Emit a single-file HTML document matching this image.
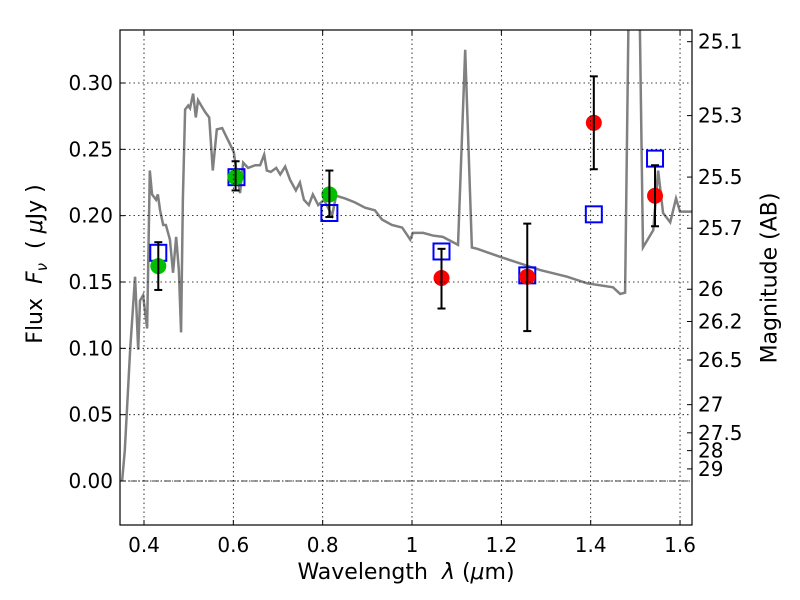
<!DOCTYPE html>
<html><head><meta charset="utf-8"><style>
body{margin:0;background:#fff;overflow:hidden}
svg text{font-family:"DejaVu Sans","Liberation Sans",sans-serif;fill:#000}
</style></head><body>
<svg id="c" width="800" height="600" style="display:block" xmlns="http://www.w3.org/2000/svg"></svg>
<script>
const xTicks=[0.4,0.6,0.8,1,1.2,1.4,1.6];
const xTickLabels=["0.4","0.6","0.8","1","1.2","1.4","1.6"];
const yTicks=[0,0.05,0.10,0.15,0.20,0.25,0.30];
const yTickLabels=["0.00","0.05","0.10","0.15","0.20","0.25","0.30"];
const magTicks=[25.1,25.3,25.5,25.7,26,26.2,26.5,27,27.5,28,29];
const specLam=[0.351,0.357,0.369,0.380,0.387,0.391,0.398,0.407,0.413,0.418,0.427,0.431,0.436,0.443,0.449,0.458,0.465,0.472,0.478,0.483,0.487,0.492,0.499,0.503,0.510,0.516,0.521,0.528,0.537,0.546,0.554,0.563,0.575,0.588,0.601,0.608,0.615,0.622,0.633,0.649,0.660,0.669,0.675,0.684,0.696,0.705,0.716,0.727,0.740,0.749,0.758,0.769,0.778,0.790,0.803,0.821,0.830,0.850,0.872,0.895,0.917,0.933,0.955,0.978,0.996,1.002,1.025,1.047,1.069,1.103,1.119,1.134,1.146,1.197,1.287,1.347,1.392,1.450,1.466,1.477,1.488,1.506,1.517,1.540,1.551,1.562,1.578,1.591,1.600,1.629];
const specFlux=[0,0.023,0.099,0.154,0.099,0.136,0.140,0.115,0.234,0.216,0.212,0.216,0.204,0.193,0.193,0.182,0.157,0.184,0.159,0.112,0.212,0.280,0.283,0.281,0.292,0.274,0.287,0.283,0.278,0.274,0.234,0.265,0.266,0.257,0.248,0.231,0.217,0.240,0.236,0.238,0.238,0.246,0.234,0.233,0.236,0.231,0.237,0.227,0.219,0.225,0.212,0.208,0.216,0.208,0.212,0.200,0.215,0.213,0.210,0.206,0.204,0.197,0.193,0.191,0.182,0.187,0.187,0.185,0.184,0.178,0.325,0.176,0.175,0.169,0.159,0.154,0.149,0.146,0.141,0.142,0.44,0.44,0.176,0.189,0.234,0.202,0.195,0.213,0.203,0.203];
const greenLam=[0.432,0.605,0.815];
const greenFlux=[0.162,0.229,0.216];
const greenHi=[0.180,0.241,0.234];
const greenLo=[0.144,0.219,0.199];
const redLam=[1.066,1.258,1.407,1.544];
const redFlux=[0.153,0.154,0.270,0.215];
const redHi=[0.175,0.194,0.305,0.238];
const redLo=[0.130,0.113,0.235,0.192];
const modelLam=[0.432,0.607,0.815,1.066,1.258,1.407,1.544];
const modelFlux=[0.172,0.229,0.202,0.173,0.155,0.201,0.243];

const L=120,R=692,T=30,B=525;
const X=v=>144+(v-0.4)*446.7;
const Y=v=>481-v*1326.7;
const NS="http://www.w3.org/2000/svg";
const svg=document.getElementById('c');
function mk(tag,attrs,parent){const e=document.createElementNS(NS,tag);for(const k in attrs)e.setAttribute(k,attrs[k]);(parent||svg).appendChild(e);return e;}
const defs=mk('defs',{});const cp=mk('clipPath',{id:'clip'},defs);mk('rect',{x:L,y:T,width:R-L,height:B-T},cp);
const plot=mk('g',{'clip-path':'url(#clip)'});

xTicks.forEach((t,i)=>{
 const g=mk('line',{x1:X(t),x2:X(t),y1:T,y2:B,stroke:'#000','stroke-width':0.8,'stroke-dasharray':'1.5,3'});
 
 
 mk('line',{x1:X(t),x2:X(t),y1:B,y2:B-5,stroke:'#000'});
 mk('line',{x1:X(t),x2:X(t),y1:T,y2:T+5,stroke:'#000'});
 const tx=mk('text',{x:X(t),y:B+27,'text-anchor':'middle','font-size':20});tx.textContent=xTickLabels[i];
 
 
});
yTicks.forEach((t,i)=>{
 const g=mk('line',{x1:L,x2:R,y1:Y(t),y2:Y(t),stroke:'#000','stroke-width':0.8,'stroke-dasharray':'1.5,3'});
 
 
 mk('line',{x1:L,x2:L+5,y1:Y(t),y2:Y(t),stroke:'#000'});
 const tx=mk('text',{x:L-7,y:Y(t)+7,'text-anchor':'end','font-size':20});tx.textContent=yTickLabels[i];
 
 
});
magTicks.forEach(m=>{
 const f=Math.pow(10,-0.4*(m-23.9));
 mk('line',{x1:R,x2:R-5,y1:Y(f),y2:Y(f),stroke:'#000'});
 const tx=mk('text',{x:R+6,y:Y(f)+7,'font-size':20});tx.textContent=String(m);
 
 
});
const zl=mk('line',{x1:L,x2:R,y1:Y(0),y2:Y(0),stroke:'#000','stroke-width':0.8,'stroke-dasharray':'6,2,1,2'},plot);



const sp=mk('polyline',{points:specLam.map((l,i)=>X(l)+','+Y(specFlux[i])).join(' '),fill:'none',stroke:'#808080','stroke-width':2.5},plot);



function errbar(l,hi,lo){
 mk('line',{x1:X(l),x2:X(l),y1:Y(hi),y2:Y(lo),stroke:'#000','stroke-width':2},plot);
 mk('line',{x1:X(l)-4,x2:X(l)+4,y1:Y(hi),y2:Y(hi),stroke:'#000','stroke-width':2},plot);
 mk('line',{x1:X(l)-4,x2:X(l)+4,y1:Y(lo),y2:Y(lo),stroke:'#000','stroke-width':2},plot);
}
modelLam.forEach((l,i)=>{
 const r=mk('rect',{x:X(l)-8,y:Y(modelFlux[i])-8,width:16,height:16,fill:'none',stroke:'#0000ff','stroke-width':2},plot);
 
 
});
greenLam.forEach((l,i)=>{
 const c=mk('circle',{cx:X(l),cy:Y(greenFlux[i]),r:8,fill:'#00bf00'},plot);
 
 
 errbar(l,greenHi[i],greenLo[i]);
});
redLam.forEach((l,i)=>{
 const c=mk('circle',{cx:X(l),cy:Y(redFlux[i]),r:8,fill:'#ff0000'},plot);
 
 
 errbar(l,redHi[i],redLo[i]);
});
const fr=mk('rect',{x:L,y:T,width:R-L,height:B-T,fill:'none',stroke:'#000','stroke-width':1.2});


</script>
<div style="position:absolute;left:0;top:0;width:800px;height:600px;pointer-events:none">
<div style="position:absolute;left:0;width:812px;top:560px;text-align:center;font:22px 'DejaVu Sans','Liberation Sans',sans-serif">Wavelength &nbsp;<i>λ</i> (<i>μ</i>m)</div>
<div style="position:absolute;left:37px;top:264px;transform:translate(-50%,-50%) rotate(-90deg);white-space:nowrap;font:22px 'DejaVu Sans','Liberation Sans',sans-serif">Flux &nbsp;<i>F<sub style="font-size:15px">ν</sub></i> &nbsp;( <i>μ</i>Jy )</div>
<div style="position:absolute;left:770px;top:278px;transform:translate(-50%,-50%) rotate(-90deg);white-space:nowrap;font:22px 'DejaVu Sans','Liberation Sans',sans-serif">Magnitude (AB)</div>
</div>
</body></html>
